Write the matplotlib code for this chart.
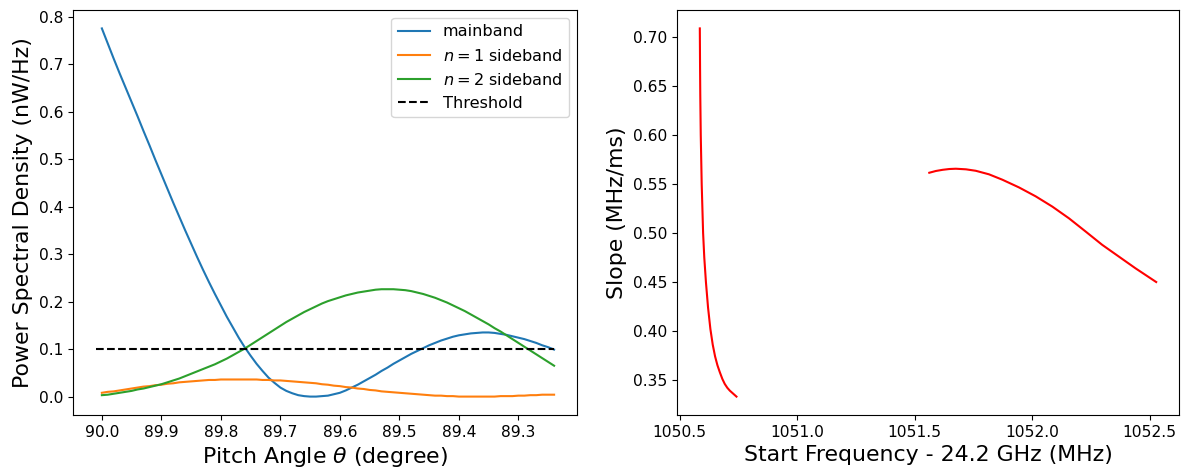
import matplotlib
matplotlib.use('Agg')
import matplotlib.pyplot as plt
import matplotlib.ticker as ticker

# ============================================================
# DATA
# ============================================================

# left panel: power spectral density vs pitch angle (deg)
theta = [90.00, 89.99, 89.98, 89.97, 89.96, 89.95, 89.94, 89.93, 89.92, 89.91,
         89.90, 89.89, 89.88, 89.87, 89.86, 89.85, 89.84, 89.83, 89.82, 89.81,
         89.80, 89.79, 89.78, 89.77, 89.76, 89.75, 89.74, 89.73, 89.72, 89.71,
         89.70, 89.69, 89.68, 89.67, 89.66, 89.65, 89.64, 89.63, 89.62, 89.61,
         89.60, 89.59, 89.58, 89.57, 89.56, 89.55, 89.54, 89.53, 89.52, 89.51,
         89.50, 89.49, 89.48, 89.47, 89.46, 89.45, 89.44, 89.43, 89.42, 89.41,
         89.40, 89.39, 89.38, 89.37, 89.36, 89.35, 89.34, 89.33, 89.32, 89.31,
         89.30, 89.29, 89.28, 89.27, 89.26, 89.25, 89.24]

mainband = [0.775, 0.743, 0.711, 0.680, 0.650, 0.620, 0.590, 0.559, 0.529, 0.498,
            0.468, 0.438, 0.408, 0.379, 0.350, 0.322, 0.294, 0.267, 0.241, 0.216,
            0.192, 0.168, 0.146, 0.124, 0.104, 0.086, 0.069, 0.054, 0.040, 0.029,
            0.019, 0.012, 0.007, 0.003, 0.001, 0.000, 0.000, 0.001, 0.002, 0.005,
            0.008, 0.013, 0.019, 0.025, 0.032, 0.039, 0.046, 0.054, 0.061, 0.069,
            0.076, 0.083, 0.090, 0.096, 0.102, 0.108, 0.113, 0.118, 0.122, 0.126,
            0.129, 0.131, 0.133, 0.134, 0.135, 0.135, 0.134, 0.132, 0.130, 0.127,
            0.124, 0.121, 0.117, 0.113, 0.108, 0.104, 0.099]

sideband1 = [0.008, 0.010, 0.011, 0.013, 0.015, 0.017, 0.019, 0.021, 0.022, 0.024,
             0.025, 0.027, 0.028, 0.030, 0.031, 0.032, 0.033, 0.034, 0.035, 0.035,
             0.036, 0.036, 0.036, 0.036, 0.036, 0.036, 0.036, 0.035, 0.035, 0.034,
             0.034, 0.033, 0.032, 0.031, 0.030, 0.029, 0.028, 0.026, 0.025, 0.023,
             0.022, 0.020, 0.019, 0.017, 0.016, 0.014, 0.013, 0.011, 0.010, 0.009,
             0.008, 0.007, 0.006, 0.005, 0.004, 0.003, 0.002, 0.002, 0.001, 0.001,
             0.000, 0.000, 0.000, 0.000, 0.000, 0.000, 0.000, 0.001, 0.001, 0.001,
             0.002, 0.002, 0.003, 0.003, 0.004, 0.004, 0.004]

sideband2 = [0.003, 0.004, 0.006, 0.008, 0.010, 0.012, 0.015, 0.017, 0.020, 0.023,
             0.026, 0.030, 0.034, 0.038, 0.043, 0.048, 0.053, 0.058, 0.063, 0.068,
             0.074, 0.080, 0.087, 0.094, 0.101, 0.109, 0.117, 0.125, 0.133, 0.141,
             0.149, 0.157, 0.164, 0.171, 0.178, 0.184, 0.190, 0.196, 0.201, 0.205,
             0.209, 0.213, 0.216, 0.219, 0.221, 0.223, 0.225, 0.226, 0.226, 0.226,
             0.225, 0.224, 0.222, 0.219, 0.216, 0.212, 0.208, 0.203, 0.198, 0.192,
             0.186, 0.180, 0.173, 0.166, 0.159, 0.152, 0.144, 0.137, 0.129, 0.121,
             0.113, 0.105, 0.097, 0.089, 0.081, 0.073, 0.065]

threshold_x = [90.01, 89.24]
threshold_y = [0.1, 0.1]

# right panel: slope vs start frequency (two branches)
freq_a = [1050.585, 1050.5855, 1050.586, 1050.587, 1050.589, 1050.591, 1050.593,
          1050.596, 1050.599, 1050.604, 1050.611, 1050.620, 1050.630, 1050.640,
          1050.650, 1050.660, 1050.670, 1050.681, 1050.691, 1050.702, 1050.713,
          1050.727, 1050.741]
slope_a = [0.709, 0.690, 0.670, 0.640, 0.600, 0.575, 0.550,
           0.525, 0.500, 0.475, 0.450, 0.424, 0.402, 0.386,
           0.374, 0.365, 0.358, 0.351, 0.346, 0.342, 0.339,
           0.336, 0.333]

freq_b = [1051.562, 1051.590, 1051.619, 1051.647, 1051.675, 1051.718, 1051.760,
          1051.816, 1051.873, 1051.944, 1052.015, 1052.086, 1052.157, 1052.228,
          1052.298, 1052.369, 1052.440, 1052.484, 1052.528]
slope_b = [0.5616, 0.5634, 0.5646, 0.5654, 0.5657, 0.5651, 0.5636,
           0.5600, 0.5545, 0.5466, 0.5375, 0.5270, 0.5150, 0.5015,
           0.4880, 0.4760, 0.4640, 0.4570, 0.4500]

# ============================================================
# PLOT SETTINGS
# ============================================================

LABEL_SIZE = 15.8
TICK_SIZE = 11.2
LEGEND_SIZE = 11.6

plt.rcParams.update({
    'xtick.labelsize': TICK_SIZE,
    'ytick.labelsize': TICK_SIZE,
    'axes.labelsize': LABEL_SIZE,
    'legend.fontsize': LEGEND_SIZE,
})

fig = plt.figure(figsize=(11.81, 4.67), dpi=100)
ax1 = fig.add_axes([73 / 1181, 52 / 467, 504 / 1181, 405 / 467])
ax2 = fig.add_axes([677 / 1181, 52 / 467, 502 / 1181, 405 / 467])

# --- left: PSD ---
ax1.plot(theta, mainband, color='#1f77b4', label='mainband')
ax1.plot(theta, sideband1, color='#ff7f0e', label='$n=1$ sideband')
ax1.plot(theta, sideband2, color='#2ca02c', label='$n=2$ sideband')
ax1.plot(threshold_x, threshold_y, color='black', linestyle='--', label='Threshold')
ax1.invert_xaxis()
ax1.set_xlabel(r'Pitch Angle $\theta$ (degree)')
ax1.set_ylabel('Power Spectral Density (nW/Hz)')
ax1.legend(loc='upper right')

# --- right: slope ---
ax2.plot(freq_a, slope_a, color='red')
ax2.plot(freq_b, slope_b, color='red')
ax2.set_xlabel('Start Frequency - 24.2 GHz (MHz)')
ax2.set_ylabel('Slope (MHz/ms)')
ax2.xaxis.set_major_locator(ticker.MultipleLocator(0.5))
ax2.ticklabel_format(useOffset=False, axis='x')

plt.savefig('out.png', dpi=100)
